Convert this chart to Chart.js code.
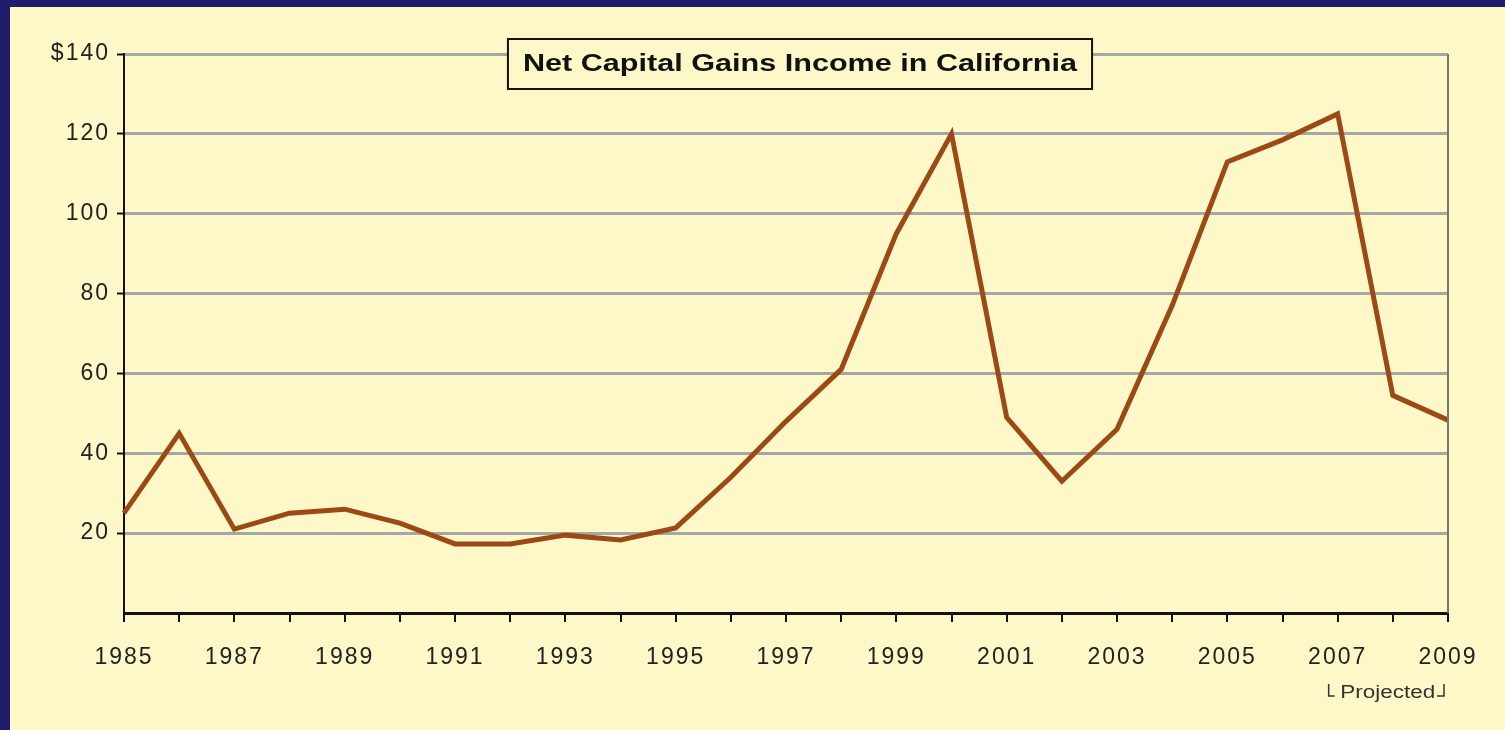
<!DOCTYPE html>
<html>
<head>
<meta charset="utf-8">
<script src="https://cdn.jsdelivr.net/npm/chart.js@4"></script>
<style>
  html, body { margin: 0; padding: 0; background: #1f1d6b; }
  .chart-container {
    position: absolute; left: 10px; top: 7px;
    width: 1495px; height: 723px; background: #fef8c9;
  }
</style>
</head>
<body>
<div class="chart-container">
  <canvas id="chart"></canvas>
</div>
<script>
const years = ['1985','1986','1987','1988','1989','1990','1991','1992','1993','1994','1995','1996',
  '1997','1998','1999','2000','2001','2002','2003','2004','2005','2006','2007','2008','2009'];
const gains = [25, 45, 21, 25, 26, 22.5, 17.3, 17.3, 19.5, 18.3, 21.3, 34,
  48, 61, 95, 120, 49, 33, 46, 77, 113, 118.5, 125, 54.5, 48.3];
const yTicks = [0, 20, 40, 60, 80, 100, 120, 140];
const chartTitle = 'Net Capital Gains Income in California';
const projectedNote = 'Projected';

const FONT = '"Liberation Sans", Arial, sans-serif';

// the original lettering is set wide, so the tick text gets a little tracking
const wideText = {
  id: 'wideText',
  beforeDraw(chart) { chart.ctx.letterSpacing = '2px'; },
  afterDatasetsDraw(chart) { chart.ctx.letterSpacing = '0px'; }
};

const overlay = {
  id: 'overlay',
  afterDraw(chart) {
    const { ctx, chartArea } = chart;
    ctx.save();
    ctx.letterSpacing = '0px';
    // right edge of plot frame
    ctx.strokeStyle = '#77776a';
    ctx.lineWidth = 2;
    ctx.beginPath();
    ctx.moveTo(chartArea.right, chartArea.top);
    ctx.lineTo(chartArea.right, chartArea.bottom);
    ctx.stroke();

    // title box
    const sx = 1.33;
    ctx.font = 'bold 23px ' + FONT;
    const w = ctx.measureText(chartTitle).width * sx;
    const cx = (chartArea.left + chartArea.right) / 2 + 14;
    const bw = w + 30, bh = 50;
    const bx = cx - bw / 2, by = chartArea.top - 15;
    ctx.fillStyle = '#fef8c9';
    ctx.fillRect(bx, by, bw, bh);
    ctx.strokeStyle = '#111';
    ctx.lineWidth = 2;
    ctx.strokeRect(bx, by, bw, bh);
    ctx.fillStyle = '#111';
    ctx.textAlign = 'center';
    ctx.textBaseline = 'middle';
    ctx.save();
    ctx.translate(cx, by + bh / 2 + 1);
    ctx.scale(sx, 1);
    ctx.fillText(chartTitle, 0, 0);
    ctx.restore();

    // projected note under 2007-2009
    const xs = chart.scales.x;
    const x1 = xs.getPixelForValue(22), x2 = xs.getPixelForValue(24);
    const ny = chartArea.bottom + 80;
    const nx = (x1 + x2) / 2 - 5;
    ctx.font = '18px ' + FONT;
    ctx.fillStyle = '#333';
    ctx.save();
    ctx.translate(nx, ny);
    ctx.scale(1.25, 1);
    ctx.fillText(projectedNote, 0, 0);
    ctx.restore();
    ctx.strokeStyle = '#333';
    ctx.lineWidth = 1.5;
    ctx.beginPath();
    ctx.moveTo(x1 - 9, ny - 9); ctx.lineTo(x1 - 9, ny + 3); ctx.lineTo(x1 - 3, ny + 3);
    ctx.moveTo(x2 - 11, ny + 3); ctx.lineTo(x2 - 4, ny + 3); ctx.lineTo(x2 - 4, ny - 9);
    ctx.stroke();
    ctx.restore();
  }
};

new Chart(document.getElementById('chart').getContext('2d'), {
  type: 'line',
  data: {
    labels: years,
    datasets: [{
      data: gains,
      borderColor: '#9c4a15',
      borderWidth: 5,
      pointRadius: 0,
      tension: 0,
      borderJoinStyle: 'miter'
    }]
  },
  options: {
    responsive: true,
    maintainAspectRatio: false,
    animation: false,
    layout: { padding: { left: 0, top: 47, right: 57, bottom: 0 } },
    plugins: { legend: { display: false }, tooltip: { enabled: false } },
    scales: {
      x: {
        offset: false,
        grid: { drawOnChartArea: false, tickLength: 9, color: '#111', lineWidth: 2 },
        border: { color: '#111', width: 2 },
        ticks: {
          autoSkip: false, maxRotation: 0, padding: 22,
          color: '#222', font: { family: FONT, size: 23 },
          callback: (v, i) => (i % 2 === 0 ? years[i] : '')
        },
        afterFit(scale) { scale.height = 117; }
      },
      y: {
        min: 0, max: 140,
        afterBuildTicks(scale) { scale.ticks = yTicks.map(v => ({ value: v })); },
        grid: {
          color: ctx => (ctx.tick && ctx.tick.value === 0 ? '#111' : '#a3a7a6'),
          lineWidth: 3,
          tickLength: 7,
          tickColor: ctx => (ctx.tick && ctx.tick.value === 0 ? 'rgba(0,0,0,0)' : '#111'),
          tickWidth: 2
        },
        border: { color: '#111', width: 2 },
        ticks: {
          padding: 7, color: '#222', font: { family: FONT, size: 23 },
          callback: v => (v === 0 ? '' : v === 140 ? '$140' : String(v))
        },
        afterFit(scale) { scale.width = 114; }
      }
    }
  },
  plugins: [wideText, overlay]
});
</script>
</body>
</html>
